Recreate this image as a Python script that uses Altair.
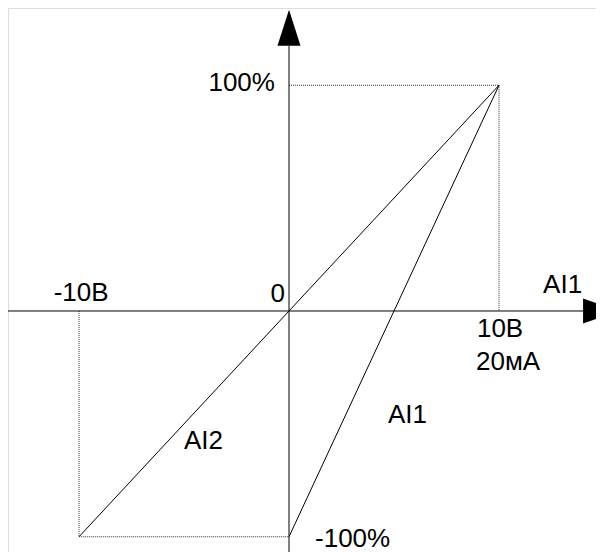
import altair as alt
import pandas as pd

# ---- data (input in volts / output in %) ----
ai2_x = [-10, 10]
ai2_y = [-100, 100]
ai1_x = [0, 10]
ai1_y = [-100, 100]
guide_pos_x = [0, 10, 10]
guide_pos_y = [100, 100, 0]
guide_neg_x = [-10, -10, 0]
guide_neg_y = [0, -100, -100]

# visible extents (data units)
x_min, x_max = -13.381, 14.619
y_min, y_max = -106.75, 134.2
x_axis_x = [x_min, 14.0]
x_axis_y = [0, 0]
y_axis_x = [0, 0]
y_axis_y = [y_min, 117.4]

# arrow heads
arrow_up_x, arrow_up_y = [0], [125.4]
arrow_right_x, arrow_right_y = [14.86], [0]

# labels
lab_right_text = ["100%", "0"]
lab_right_x = [-0.67, -0.19]
lab_right_y = [97.4, 4.0]
lab_center_text = ["-10В", "10В", "20мА"]
lab_center_x = [-9.9, 10.05, 10.43]
lab_center_y = [4.4, -11.5, -26.1]
lab_left_text = ["AI1", "AI1", "AI2", "-100%"]
lab_left_x = [12.1, 4.71, -5.0, 1.24]
lab_left_y = [8.0, -49.6, -61.1, -104.6]


def seg_df(xs, ys, name):
    return pd.DataFrame({"x": xs, "y": ys, "seg": name, "i": list(range(len(xs)))})


xs = alt.Scale(domain=[x_min, x_max], nice=False, zero=False)
ys = alt.Scale(domain=[y_min, y_max], nice=False, zero=False)
X = alt.X("x:Q", scale=xs, axis=None)
Y = alt.Y("y:Q", scale=ys, axis=None)

solid = pd.concat([
    seg_df(x_axis_x, x_axis_y, "xaxis"),
    seg_df(y_axis_x, y_axis_y, "yaxis"),
    seg_df(ai2_x, ai2_y, "ai2"),
    seg_df(ai1_x, ai1_y, "ai1"),
])
dotted = pd.concat([
    seg_df(guide_pos_x, guide_pos_y, "gp"),
    seg_df(guide_neg_x, guide_neg_y, "gn"),
])

solid_layer = alt.Chart(solid).mark_line(color="black", strokeWidth=1).encode(
    x=X, y=Y, detail="seg:N", order="i:Q")
dotted_layer = alt.Chart(dotted).mark_line(color="#333333", strokeWidth=1, strokeDash=[1, 1]).encode(
    x=X, y=Y, detail="seg:N", order="i:Q")

up = alt.Chart(pd.DataFrame({"x": arrow_up_x, "y": arrow_up_y})).mark_point(
    shape="M-0.64,1 L0.64,1 L0,-1 Z", size=1296, filled=True, color="black", opacity=1, strokeWidth=0
).encode(x=X, y=Y)
right = alt.Chart(pd.DataFrame({"x": arrow_right_x, "y": arrow_right_y})).mark_point(
    shape="M-1,-0.69 L1,0 L-1,0.69 Z", size=1296, filled=True, color="black", opacity=1, strokeWidth=0
).encode(x=X, y=Y)


def text_layer(texts, xs_, ys_, align):
    df = pd.DataFrame({"x": xs_, "y": ys_, "t": texts})
    return alt.Chart(df).mark_text(
        align=align, baseline="alphabetic", font="Liberation Sans", fontSize=26, color="black"
    ).encode(x=X, y=Y, text="t:N")


chart = alt.layer(
    dotted_layer, solid_layer, up, right,
    text_layer(lab_right_text, lab_right_x, lab_right_y, "right"),
    text_layer(lab_center_text, lab_center_x, lab_center_y, "center"),
    text_layer(lab_left_text, lab_left_x, lab_left_y, "left"),
).properties(
    width=588, height=544, padding=0, autosize=alt.AutoSizeParams(type="none")
).configure_view(strokeWidth=0).configure(background="white")

chart.save("out.html", embed_options={"renderer": "svg", "actions": False})
